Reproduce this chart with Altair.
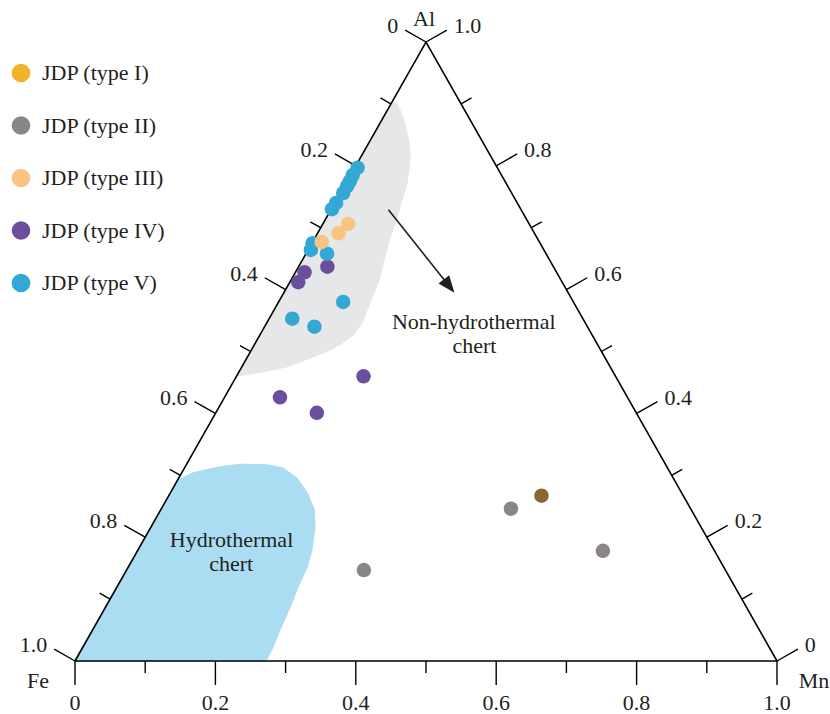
import math
import altair as alt
import pandas as pd

# ---------------------------------------------------------------- data
types = ["JDP (type I)", "JDP (type II)", "JDP (type III)", "JDP (type IV)", "JDP (type V)"]
type_colours = ["#F2B22A", "#8A8589", "#F8C47F", "#6B4F9E", "#33A8D4"]
type1_plot_colour = "#8C6631"

# compositions as Fe / Al / Mn fractions
type1_fe = [0.202]
type1_al = [0.267]
type1_mn = [0.531]

type2_fe = [0.256, 0.159, 0.515]
type2_al = [0.246, 0.178, 0.147]
type2_mn = [0.498, 0.663, 0.338]

type3_fe = [0.258, 0.279, 0.310]
type3_al = [0.706, 0.691, 0.677]
type3_mn = [0.036, 0.030, 0.013]

type4_fe = [0.359, 0.376, 0.322, 0.359, 0.495, 0.455]
type4_al = [0.628, 0.612, 0.637, 0.460, 0.426, 0.401]
type4_mn = [0.013, 0.012, 0.041, 0.181, 0.079, 0.144]

type5_fe = [0.199, 0.212, 0.221, 0.229, 0.240, 0.258, 0.269, 0.324, 0.332, 0.312, 0.328, 0.414, 0.389]
type5_al = [0.797, 0.785, 0.775, 0.767, 0.756, 0.740, 0.730, 0.675, 0.664, 0.658, 0.580, 0.553, 0.540]
type5_mn = [0.004, 0.003, 0.004, 0.004, 0.004, 0.002, 0.001, 0.001, 0.004, 0.030, 0.092, 0.033, 0.071]

# discrimination fields (Al, Mn outline; Fe is the remainder)
non_hydro_al = [0.906, 0.898, 0.877, 0.844, 0.823, 0.801, 0.769, 0.742, 0.715, 0.683, 0.645, 0.618,
                0.591, 0.564, 0.546, 0.527, 0.511, 0.500, 0.489, 0.475, 0.467, 0.462, 0.460]
non_hydro_mn = [0.000, 0.011, 0.029, 0.053, 0.066, 0.076, 0.088, 0.094, 0.101, 0.107, 0.117, 0.125,
                0.129, 0.133, 0.136, 0.133, 0.122, 0.109, 0.090, 0.064, 0.034, 0.009, 0.000]

hydro_al = [0.292, 0.304, 0.313, 0.318, 0.317, 0.312, 0.296, 0.271, 0.244, 0.216, 0.179, 0.152,
            0.120, 0.087, 0.050, 0.023, 0.000, 0.000]
hydro_mn = [0.000, 0.016, 0.046, 0.076, 0.115, 0.140, 0.168, 0.196, 0.219, 0.234, 0.248, 0.255,
            0.258, 0.263, 0.267, 0.271, 0.272, 0.000]

field_text = ["Hydrothermal", "chert", "Non-hydrothermal", "chert"]
field_al = [0.184, 0.145, 0.536, 0.498]
field_mn = [0.131, 0.150, 0.300, 0.320]

# trend arrow (start, tip)
arrow_al = [0.729, 0.595]
arrow_mn = [0.082, 0.243]

tick_values = [i / 10 for i in range(11)]
tick_text = {0: "0", 2: "0.2", 4: "0.4", 6: "0.6", 8: "0.8", 10: "1.0"}

# ---------------------------------------------------------------- layout
W, H = 830, 714
BASE_PX = 702.0     # Fe–Mn side on screen
TALL_PX = 619.0     # apex height on screen
FE_PX = (75.0, 661.0)

X_DOM = [-FE_PX[0] / BASE_PX, (W - FE_PX[0]) / BASE_PX]
Y_DOM = [-(H - FE_PX[1]) / TALL_PX, FE_PX[1] / TALL_PX]

INK = "#231f20"
FONT = "Liberation Serif"
FS = 22


def X(f="x"):
    return alt.X(f"{f}:Q", scale=alt.Scale(domain=X_DOM, nice=False, zero=False), axis=None)


def Y(f="y"):
    return alt.Y(f"{f}:Q", scale=alt.Scale(domain=Y_DOM, nice=False, zero=False), axis=None)


def project(fe, al, mn):
    s = fe + al + mn
    a, m = al / s, mn / s
    return m + a / 2.0, a


def shift(x, y, nx, ny, dist):
    """move a plot point by dist screen pixels along unit screen vector (nx, ny)"""
    return x + nx * dist / BASE_PX, y - ny * dist / TALL_PX


side = math.hypot(BASE_PX / 2, TALL_PX)
n_left = (-TALL_PX / side, -BASE_PX / 2 / side)
n_right = (TALL_PX / side, -BASE_PX / 2 / side)
n_bottom = (0.0, 1.0)

# ---------------------------------------------------------------- tables
def polygon(al_list, mn_list):
    rows = []
    for i, (a, m) in enumerate(zip(al_list, mn_list)):
        x, y = project(1 - a - m, a, m)
        rows.append({"x": x, "y": y, "i": i})
    return pd.DataFrame(rows)


non_hydro_df = polygon(non_hydro_al, non_hydro_mn)
hydro_df = polygon(hydro_al, hydro_mn)

frame_rows = []
for i, (fe, al, mn) in enumerate([(1, 0, 0), (0, 0, 1), (0, 1, 0), (1, 0, 0)]):
    x, y = project(fe, al, mn)
    frame_rows.append({"x": x, "y": y, "i": i})
frame_df = pd.DataFrame(frame_rows)

tick_rows, lab_left, lab_right, lab_bottom = [], [], [], []
for k, v in enumerate(tick_values):
    length = 24 if k % 2 == 0 else 12
    for axis_name, pos, n in (
        ("bottom", project(1 - v, 0, v), n_bottom),
        ("left", project(v, 1 - v, 0), n_left),
        ("right", project(0, v, 1 - v), n_right),
    ):
        x2, y2 = shift(pos[0], pos[1], n[0], n[1], length)
        tick_rows.append({"x": pos[0], "y": pos[1], "x2": x2, "y2": y2})
        if k in tick_text:
            dist = 42 if axis_name == "bottom" else 32
            lx, ly = shift(pos[0], pos[1], n[0], n[1], dist)
            row = {"x": lx, "y": ly, "t": tick_text[k]}
            {"bottom": lab_bottom, "left": lab_left, "right": lab_right}[axis_name].append(row)
ticks_df = pd.DataFrame(tick_rows)

vertex_df = pd.DataFrame([
    dict(zip(("x", "y"), project(0, 1, 0)), t="Al", dx=-2, dy=-23),
    dict(zip(("x", "y"), project(1, 0, 0)), t="Fe", dx=-37, dy=20),
    dict(zip(("x", "y"), project(0, 0, 1)), t="Mn", dx=37, dy=20),
])

field_rows = []
for t, a, m in zip(field_text, field_al, field_mn):
    x, y = project(1 - a - m, a, m)
    field_rows.append({"x": x, "y": y, "t": t})
field_df = pd.DataFrame(field_rows)

# drawing order: II, IV, V, then III on top
pt_rows = []
for k, (name, fes, als, mns) in enumerate((
    (types[1], type2_fe, type2_al, type2_mn),
    (types[3], type4_fe, type4_al, type4_mn),
    (types[4], type5_fe, type5_al, type5_mn),
    (types[2], type3_fe, type3_al, type3_mn),
)):
    for fe, al, mn in zip(fes, als, mns):
        x, y = project(fe, al, mn)
        pt_rows.append({"x": x, "y": y, "type": name, "Fe": fe, "Al": al, "Mn": mn,
                        "z": k * 100 + len(pt_rows)})
points_df = pd.DataFrame(pt_rows)

t1_rows = []
for fe, al, mn in zip(type1_fe, type1_al, type1_mn):
    x, y = project(fe, al, mn)
    t1_rows.append({"x": x, "y": y, "type": types[0], "Fe": fe, "Al": al, "Mn": mn})
type1_df = pd.DataFrame(t1_rows)

a0 = project(1 - arrow_al[0] - arrow_mn[0], arrow_al[0], arrow_mn[0])
a1 = project(1 - arrow_al[1] - arrow_mn[1], arrow_al[1], arrow_mn[1])
dxp = (a1[0] - a0[0]) * BASE_PX
dyp = -(a1[1] - a0[1]) * TALL_PX
dlen = math.hypot(dxp, dyp)
ux, uy = dxp / dlen, dyp / dlen
shaft_end = shift(a1[0], a1[1], ux, uy, -8)
arrow_df = pd.DataFrame([{"x": a0[0], "y": a0[1], "x2": shaft_end[0], "y2": shaft_end[1]}])
head_df = pd.DataFrame([{"x": a1[0], "y": a1[1]}])
head_angle = math.degrees(math.atan2(ux, -uy)) % 360

# ---------------------------------------------------------------- layers
non_hydro = alt.Chart(non_hydro_df).mark_line(
    interpolate="linear-closed", fill="#E6E7E8", stroke="#E6E7E8", strokeWidth=1
).encode(x=X(), y=Y(), order="i:Q")

hydro = alt.Chart(hydro_df).mark_line(
    interpolate="linear-closed", fill="#ABDDF2", stroke="#ABDDF2", strokeWidth=1
).encode(x=X(), y=Y(), order="i:Q")

frame = alt.Chart(frame_df).mark_line(color="black", strokeWidth=1.6, strokeJoin="miter").encode(
    x=X(), y=Y(), order="i:Q"
)

ticks = alt.Chart(ticks_df).mark_rule(color="black", strokeWidth=1.4).encode(
    x=X(), y=Y(), x2="x2:Q", y2="y2:Q"
)

text_style = dict(font=FONT, fontSize=FS, color=INK, baseline="middle")
lbl_left = alt.Chart(pd.DataFrame(lab_left)).mark_text(align="right", **text_style).encode(
    x=X(), y=Y(), text="t:N")
lbl_right = alt.Chart(pd.DataFrame(lab_right)).mark_text(align="left", **text_style).encode(
    x=X(), y=Y(), text="t:N")
lbl_bottom = alt.Chart(pd.DataFrame(lab_bottom)).mark_text(align="center", **text_style).encode(
    x=X(), y=Y(), text="t:N")

vertex_layers = [
    alt.Chart(vertex_df.iloc[[i]]).mark_text(
        align="center", dx=float(r.dx), dy=float(r.dy), **text_style
    ).encode(x=X(), y=Y(), text="t:N")
    for i, r in enumerate(vertex_df.itertuples())
]

fields = alt.Chart(field_df).mark_text(
    align="center", baseline="alphabetic", font=FONT, fontSize=FS, color=INK
).encode(x=X(), y=Y(), text="t:N")

shaft = alt.Chart(arrow_df).mark_rule(color=INK, strokeWidth=1.6).encode(
    x=X(), y=Y(), x2="x2:Q", y2="y2:Q")
head = alt.Chart(head_df).mark_point(
    shape="M0,0L0.8,2L-0.8,2Z", filled=True, size=289, angle=head_angle, color=INK, opacity=1
).encode(x=X(), y=Y())

points = alt.Chart(points_df).mark_circle(size=210, opacity=1).encode(
    x=X(), y=Y(),
    order=alt.Order("z:Q"),
    color=alt.Color(
        "type:N",
        scale=alt.Scale(domain=types, range=type_colours),
        legend=alt.Legend(
            title=None, orient="none", legendX=10, legendY=62, padding=0,
            symbolType="circle", symbolSize=346, symbolStrokeWidth=0, symbolOpacity=1,
            labelFont=FONT, labelFontSize=FS, labelColor=INK, labelOffset=10,
            rowPadding=30.5,
        ),
    ),
)

type1_pts = alt.Chart(type1_df).mark_circle(size=210, opacity=1, color=type1_plot_colour).encode(
    x=X(), y=Y())

chart = alt.layer(
    non_hydro, hydro, frame, ticks, lbl_left, lbl_right, lbl_bottom, *vertex_layers,
    fields, shaft, head, points, type1_pts,
).properties(
    width=W, height=H, padding=0, autosize=alt.AutoSizeParams(type="none"), background="white"
).configure_view(stroke=None)

chart.save("out.html", embed_options={"renderer": "svg", "actions": False})
